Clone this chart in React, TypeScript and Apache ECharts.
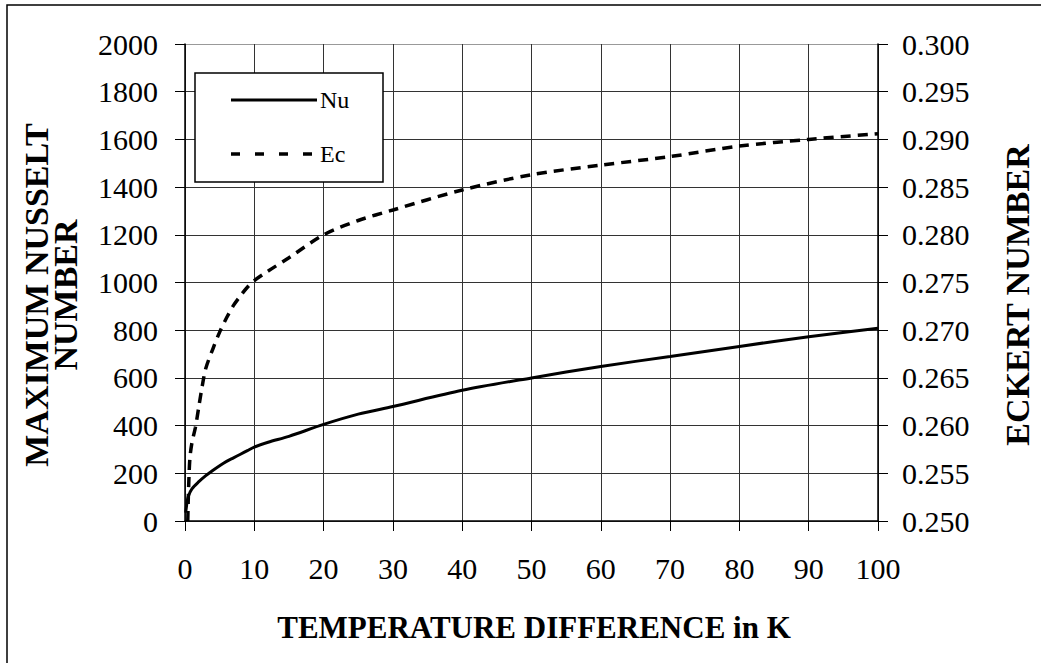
import React, { useEffect, useRef } from "react";
import * as echarts from "echarts";

const nuX = [0.1, 0.3, 0.5, 1, 2, 3, 4, 5, 6, 7, 8, 9, 10, 12, 15, 20, 25, 30, 40, 50, 60, 70, 80, 90, 100];
const nuY = [35, 80, 105, 135, 165, 190, 212, 232, 250, 265, 280, 295, 310, 330, 355, 405, 448, 480, 548, 600, 648, 690, 732, 773, 808];

const ecX = [0.4, 0.5, 0.7, 1, 1.5, 2, 2.5, 3, 4, 5, 6, 7, 8, 9, 10, 12, 15, 20, 25, 30, 40, 50, 60, 70, 80, 90, 100];
const ecY = [0.25, 0.253, 0.2565, 0.2582, 0.2598, 0.262, 0.2642, 0.266, 0.268, 0.2698, 0.2713, 0.2726, 0.2736, 0.2745, 0.2752, 0.2762, 0.2776, 0.28, 0.2815, 0.2826, 0.2847, 0.2863, 0.2873, 0.2882, 0.2893, 0.29, 0.2906];

const xTitle = "TEMPERATURE DIFFERENCE in K";
const yLeftTitle = ["MAXIMUM NUSSELT", "NUMBER"];
const yRightTitle = "ECKERT NUMBER";
const seriesNames = ["Nu", "Ec"];

const FONT = '"Liberation Serif", "Times New Roman", serif';

export default function App() {
  const ref = useRef<HTMLDivElement>(null);
  useEffect(() => {
    if (!ref.current) return;
    const chart = echarts.init(ref.current, null, { renderer: "svg" });
    const gridColors = ["#333", "#333", "#333", "#333", "#333", "#333", "#333", "#333", "#333", "#333", "#999"];
    chart.setOption({
      animation: false,
      backgroundColor: "#fff",
      textStyle: { fontFamily: FONT },
      grid: { left: 185, right: 163, top: 44, bottom: 142, containLabel: false },
      xAxis: {
        type: "value",
        min: 0,
        max: 100,
        interval: 10,
        axisLine: { show: true, lineStyle: { color: "#000", width: 1.5 } },
        axisTick: { show: true, length: 10, lineStyle: { color: "#000" } },
        axisLabel: { fontSize: 30, color: "#000", margin: 32, fontFamily: FONT },
        splitLine: { show: true, lineStyle: { color: "#333", width: 1 } },
      },
      yAxis: [
        {
          type: "value",
          min: 0,
          max: 2000,
          interval: 200,
          position: "left",
          axisLine: { show: true, lineStyle: { color: "#000", width: 1.5 } },
          axisTick: { show: true, length: 10, lineStyle: { color: "#000" } },
          axisLabel: {
            fontSize: 30,
            color: "#000",
            margin: 27,
            fontFamily: FONT,
            formatter: (v: number) => String(Math.round(v)),
          },
          splitLine: { show: true, lineStyle: { color: gridColors, width: 1 } },
        },
        {
          type: "value",
          min: 0.25,
          max: 0.3,
          interval: 0.005,
          position: "right",
          axisLine: { show: true, lineStyle: { color: "#000", width: 1.5 } },
          axisTick: { show: true, length: 10, lineStyle: { color: "#000" } },
          axisLabel: {
            fontSize: 30,
            color: "#000",
            margin: 24,
            fontFamily: FONT,
            formatter: (v: number) => v.toFixed(3),
          },
          splitLine: { show: false },
        },
      ],
      series: [
        {
          name: seriesNames[0],
          type: "line",
          yAxisIndex: 0,
          showSymbol: false,
          smooth: 0.3,
          lineStyle: { color: "#000", width: 3 },
          data: nuX.map((x, i) => [x, nuY[i]]),
        },
        {
          name: seriesNames[1],
          type: "line",
          yAxisIndex: 1,
          showSymbol: false,
          smooth: 0.3,
          lineStyle: { color: "#000", width: 3.5, type: [10, 7] },
          data: ecX.map((x, i) => [x, ecY[i]]),
        },
      ],
      graphic: [
        {
          type: "rect",
          shape: { x: 7, y: 5, width: 1100, height: 700 },
          style: { fill: "none", stroke: "#000", lineWidth: 1.5 },
          silent: true,
        },
        {
          type: "rect",
          shape: { x: 195, y: 73, width: 188, height: 109 },
          style: { fill: "#fff", stroke: "#000", lineWidth: 1.5 },
          z: 100,
        },
        {
          type: "line",
          shape: { x1: 231, y1: 100, x2: 317, y2: 100 },
          style: { stroke: "#000", lineWidth: 3 },
          z: 101,
        },
        {
          type: "line",
          shape: { x1: 231, y1: 154, x2: 312, y2: 154 },
          style: { stroke: "#000", lineWidth: 3.5, lineDash: [9, 15] },
          z: 101,
        },
        {
          type: "text",
          x: 320,
          y: 100,
          style: { text: seriesNames[0], fontSize: 24, fontFamily: FONT, fill: "#000", verticalAlign: "middle" },
          z: 101,
        },
        {
          type: "text",
          x: 320,
          y: 154,
          style: { text: seriesNames[1], fontSize: 24, fontFamily: FONT, fill: "#000", verticalAlign: "middle" },
          z: 101,
        },
        {
          type: "text",
          x: 534,
          y: 627,
          style: { text: xTitle, fontSize: 31, fontWeight: "bold", fontFamily: FONT, fill: "#000", align: "center", verticalAlign: "middle" },
        },
        {
          type: "text",
          x: 36,
          y: 295,
          rotation: Math.PI / 2,
          style: { text: yLeftTitle[0], fontSize: 34, fontWeight: "bold", fontFamily: FONT, fill: "#000", align: "center", verticalAlign: "middle" },
        },
        {
          type: "text",
          x: 65,
          y: 295,
          rotation: Math.PI / 2,
          style: { text: yLeftTitle[1], fontSize: 34, fontWeight: "bold", fontFamily: FONT, fill: "#000", align: "center", verticalAlign: "middle" },
        },
        {
          type: "text",
          x: 1017,
          y: 295,
          rotation: Math.PI / 2,
          style: { text: yRightTitle, fontSize: 34, fontWeight: "bold", fontFamily: FONT, fill: "#000", align: "center", verticalAlign: "middle" },
        },
      ],
    });
    return () => chart.dispose();
  }, []);
  return <div ref={ref} style={{ position: "fixed", left: 0, top: 0, width: 1041, height: 663 }} />;
}
